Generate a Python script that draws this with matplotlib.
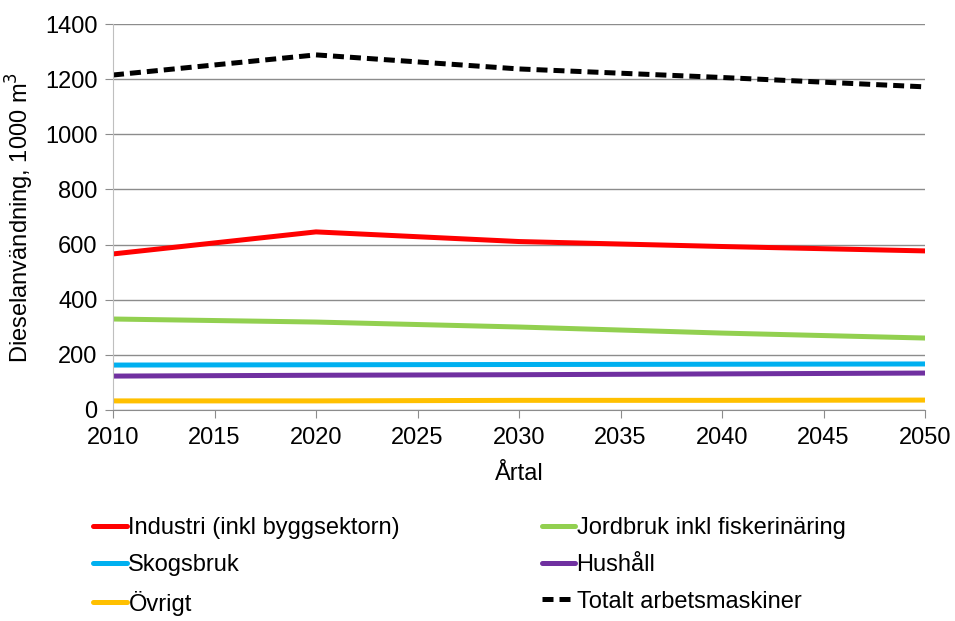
import matplotlib
matplotlib.use("Agg")
import matplotlib.pyplot as plt
from matplotlib import font_manager

names = {f.name for f in font_manager.fontManager.ttflist}
fam = "Liberation Sans Narrow" if "Liberation Sans Narrow" in names else "Liberation Sans"
plt.rcParams['font.family'] = [fam, 'DejaVu Sans']

years = [2010, 2020, 2030, 2040, 2050]
industri = [566, 646, 611, 593, 577]
jordbruk = [330, 319, 301, 279, 261]
skogsbruk = [163, 164, 165, 166, 167]
hushall = [123, 126, 128, 131, 134]
ovrigt = [33, 33, 35, 35, 36]
totalt = [1215, 1288, 1237, 1206, 1172]

series = [
    ("Industri (inkl byggsektorn)", industri, "#FF0000", "-"),
    ("Jordbruk inkl fiskerinäring", jordbruk, "#92D050", "-"),
    ("Skogsbruk", skogsbruk, "#00B0F0", "-"),
    ("Hushåll", hushall, "#7030A0", "-"),
    ("Övrigt", ovrigt, "#FFC000", "-"),
    ("Totalt arbetsmaskiner", totalt, "#000000", "--"),
]

FS = 17
fig = plt.figure(figsize=(9.55, 6.21), dpi=100)
ax = fig.add_axes([113/955, 1-410/621, 812/955, 386/621])
for label, vals, col, ls in series:
    l, = ax.plot(years, vals, color=col, lw=3.6, ls=ls, label=label, solid_capstyle='round')
    if ls == "--":
        l.set_dashes([2.2, 1.2])

ax.set_xlim(2010, 2050)
ax.set_ylim(0, 1400)
ax.set_xticks(range(2010, 2051, 5))
ax.set_yticks(range(0, 1401, 200))
ax.grid(axis='y', color='#8c8c8c', lw=1)
ax.set_axisbelow(True)
for s in ['top', 'right']:
    ax.spines[s].set_visible(False)
ax.spines['left'].set_color('#bfbfbf')
ax.spines['bottom'].set_color('#8c8c8c')
ax.tick_params(axis='x', direction='out', length=6, color='#8c8c8c', labelsize=FS, pad=6)
ax.tick_params(axis='y', direction='out', length=6, color='#8c8c8c', labelsize=FS, pad=5)
ax.set_xlabel("Årtal", fontsize=FS, labelpad=10)
ax.set_ylabel("Dieselanvändning, 1000 m$^3$", fontsize=FS, labelpad=7)

h, lab = ax.get_legend_handles_labels()
order = [0, 2, 4, 1, 3, 5]
leg = fig.legend([h[i] for i in order], [lab[i] for i in order], ncol=2,
                 loc='upper left', bbox_to_anchor=(84/955, 1-508/621),
                 frameon=False, fontsize=FS, handlelength=1.4, handletextpad=0.08,
                 columnspacing=6.0, labelspacing=0.62, borderaxespad=0)
fig.savefig("out.png", dpi=100)
